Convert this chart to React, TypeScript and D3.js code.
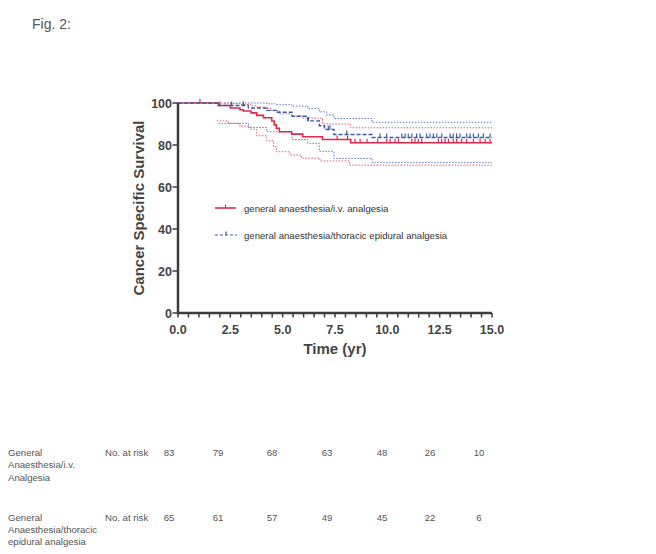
import React from "react";
import * as d3 from "d3";

// ---- data ----
const ivTimes = [0, 1.93, 2.5, 2.96, 3.12, 3.49, 3.76, 4.08, 4.48, 4.6, 4.7, 4.84, 5.43, 5.96, 6.9, 8.25];
const ivSurv = [100, 98.8, 97.6, 96.8, 96.2, 95.3, 94.1, 93.0, 91.4, 89.6, 88.0, 86.3, 85.2, 83.9, 82.6, 81.1];
const ivUpperTimes = [1.93, 2.5, 2.96, 3.49, 3.76, 4.08, 4.48, 4.84, 5.43, 5.96, 6.9, 8.25];
const ivUpper = [100, 99.7, 99.3, 98.7, 98.1, 97.4, 96.3, 94.8, 93.8, 92.8, 90.0, 88.2];
const ivLowerTimes = [1.85, 2.4, 2.96, 3.44, 3.76, 4.24, 4.56, 4.71, 5.35, 5.9, 6.78, 8.2];
const ivLower = [91.5, 90.3, 89.0, 87.5, 84.4, 82.0, 79.2, 76.8, 75.2, 73.7, 72.4, 70.4];
const ivCensor = [1.05, 7.6, 8.1, 8.46, 8.7, 9.03, 9.54, 9.97, 10.13, 10.37, 10.53, 11.17, 11.32, 11.48, 11.64, 12.44, 12.6, 12.76, 12.92, 13.15, 13.31, 13.55, 13.79, 14.11, 14.43, 14.67, 14.91];

const epTimes = [0, 1.93, 3.36, 4.24, 4.71, 5.45, 6.2, 6.75, 7.0, 7.45, 9.27];
const epSurv = [100, 98.8, 97.6, 96.5, 95.6, 93.7, 91.5, 89.2, 87.4, 85.0, 83.6];
const epUpperTimes = [2.2, 4.24, 4.71, 5.45, 6.2, 6.75, 7.1, 7.45, 9.27];
const epUpper = [100, 99.6, 99.2, 98.5, 97.4, 95.8, 94.3, 92.6, 90.8];
const epLowerTimes = [1.93, 3.36, 4.24, 5.45, 6.2, 6.75, 7.45, 9.27];
const epLower = [90.3, 88.3, 86.3, 82.6, 80.8, 77.0, 73.6, 71.6];
const epCensor = [2.0, 2.56, 3.12, 6.23, 7.18, 7.26, 8.06, 9.65, 9.97, 10.69, 10.85, 11.0, 11.17, 11.4, 11.56, 11.88, 12.04, 12.2, 12.36, 12.6, 13.0, 13.15, 13.31, 13.47, 13.79, 13.95, 14.11, 14.35, 14.59, 14.91];

const xTicks = [0, 2.5, 5, 7.5, 10, 12.5, 15];
const xTickLabels = ["0.0", "2.5", "5.0", "7.5", "10.0", "12.5", "15.0"];
const yTicks = [0, 20, 40, 60, 80, 100];

const riskLabels1 = ["General", "Anaesthesia/i.v.", "Analgesia"];
const riskLabels2 = ["General", "Anaesthesia/thoracic", "epidural analgesia"];
const riskIv = [83, 79, 68, 63, 48, 26, 10];
const riskEp = [65, 61, 57, 49, 45, 22, 6];
const riskX = [169, 218, 272, 327, 382, 430, 479];

const RED = "#e0294c";
const RED_CI = "#e35a73";
const BLUE = "#3b5aa8";
const BLUE_CI = "#6079c0";
const AXIS = "#3d3d3d";
const FONT = "'Liberation Sans', Arial, Helvetica, sans-serif";

export default function App() {
  const x = d3.scaleLinear().domain([0, 15]).range([178, 492]);
  const y = d3.scaleLinear().domain([0, 100]).range([313, 103]);
  const line = d3
    .line<[number, number]>()
    .x((d) => x(d[0]))
    .y((d) => y(d[1]))
    .curve(d3.curveStepAfter);

  const stepPath = (ts: number[], vs: number[]) => {
    const pts: [number, number][] = ts.map((t, i) => [t, vs[i]]);
    pts.push([15, vs[vs.length - 1]]);
    return line(pts) || "";
  };
  const valueAt = (ts: number[], vs: number[], t: number) => {
    let v = vs[0];
    for (let i = 0; i < ts.length; i++) if (ts[i] <= t) v = vs[i];
    return v;
  };

  const minorTicks = d3.range(0, 15.001, 0.5);

  return (
    <svg
      width={656}
      height={554}
      style={{ position: "absolute", left: 0, top: 0, background: "#fff" }}
      fontFamily={FONT}
    >
      <rect x={0} y={0} width={656} height={554} fill="#fff" />
      <text x={32} y={29} fontSize={14} fill="#555">Fig. 2:</text>

      {/* CI lines */}
      <path d={stepPath(ivUpperTimes, ivUpper)} fill="none" stroke={RED_CI} strokeWidth={1} strokeDasharray="1.5,1.5" />
      <path d={stepPath(ivLowerTimes, ivLower)} fill="none" stroke={RED_CI} strokeWidth={1} strokeDasharray="1.5,1.5" />
      <path d={stepPath(epUpperTimes, epUpper)} fill="none" stroke={BLUE_CI} strokeWidth={1} strokeDasharray="1.5,1.5" />
      <path d={stepPath(epLowerTimes, epLower)} fill="none" stroke={BLUE_CI} strokeWidth={1} strokeDasharray="1.5,1.5" />

      {/* KM curves */}
      <path d={stepPath(ivTimes, ivSurv)} fill="none" stroke={RED} strokeWidth={1.6} />
      {ivCensor.map((t, i) => {
        const v = valueAt(ivTimes, ivSurv, t);
        return <line key={"rc" + i} x1={x(t)} x2={x(t)} y1={y(v) - 4} y2={y(v)} stroke={RED} strokeWidth={1.2} />;
      })}
      <path d={stepPath(epTimes, epSurv)} fill="none" stroke={BLUE} strokeWidth={1.4} strokeDasharray="4,2" />
      {epCensor.map((t, i) => {
        const v = valueAt(epTimes, epSurv, t);
        return <line key={"bc" + i} x1={x(t)} x2={x(t)} y1={y(v) - 4} y2={y(v)} stroke={BLUE} strokeWidth={1.2} />;
      })}

      {/* axes */}
      <line x1={x(0)} x2={x(15)} y1={y(0)} y2={y(0)} stroke={AXIS} strokeWidth={2.5} />
      <line x1={x(0)} x2={x(0)} y1={y(0) + 1.2} y2={y(100)} stroke={AXIS} strokeWidth={2.5} />
      {minorTicks.map((t, i) => (
        <line key={"mt" + i} x1={x(t)} x2={x(t)} y1={y(0)} y2={y(0) + 4.5} stroke={AXIS} strokeWidth={1.5} />
      ))}
      {xTicks.map((t, i) => (
        <text key={"xl" + i} x={x(t)} y={333.5} textAnchor="middle" fontSize={12.5} fontWeight="bold" fill="#444">
          {xTickLabels[i]}
        </text>
      ))}
      {yTicks.map((v, i) => (
        <g key={"yt" + i}>
          <line x1={x(0) - 5.5} x2={x(0)} y1={y(v)} y2={y(v)} stroke={AXIS} strokeWidth={1.5} />
          <text x={172} y={y(v) + 4.5} textAnchor="end" fontSize={12.5} fontWeight="bold" fill="#444">
            {v}
          </text>
        </g>
      ))}
      <text x={335} y={353.5} textAnchor="middle" fontSize={15} fontWeight="bold" fill="#444">Time (yr)</text>
      <text transform="translate(144,208) rotate(-90)" textAnchor="middle" fontSize={15} fontWeight="bold" fill="#444">
        Cancer Specific Survival
      </text>

      {/* legend */}
      <line x1={215} x2={236} y1={208} y2={208} stroke={RED} strokeWidth={1.6} />
      <line x1={225.5} x2={225.5} y1={204.5} y2={208} stroke={RED} strokeWidth={1.2} />
      <text x={244} y={211.5} fontSize={9.6} fill="#333">general anaesthesia/i.v. analgesia</text>
      <line x1={215} x2={237} y1={235} y2={235} stroke={BLUE} strokeWidth={1.2} strokeDasharray="3,2" />
      <line x1={226} x2={226} y1={231.5} y2={235} stroke={BLUE} strokeWidth={1.2} />
      <text x={244} y={238.5} fontSize={9.6} fill="#333">general anaesthesia/thoracic epidural analgesia</text>

      {/* risk table */}
      {riskLabels1.map((s, i) => (
        <text key={"r1" + i} x={8} y={455.5 + i * 12.9} fontSize={9.6} fill="#555">{s}</text>
      ))}
      {riskLabels2.map((s, i) => (
        <text key={"r2" + i} x={8} y={521 + i * 12} fontSize={9.6} fill="#555">{s}</text>
      ))}
      <text x={105} y={455.5} fontSize={9.6} fill="#555">No. at risk</text>
      <text x={105} y={521} fontSize={9.6} fill="#555">No. at risk</text>
      {riskIv.map((n, i) => (
        <text key={"n1" + i} x={riskX[i]} y={455.5} textAnchor="middle" fontSize={9.6} fill="#555">{n}</text>
      ))}
      {riskEp.map((n, i) => (
        <text key={"n2" + i} x={riskX[i]} y={521} textAnchor="middle" fontSize={9.6} fill="#555">{n}</text>
      ))}
    </svg>
  );
}
